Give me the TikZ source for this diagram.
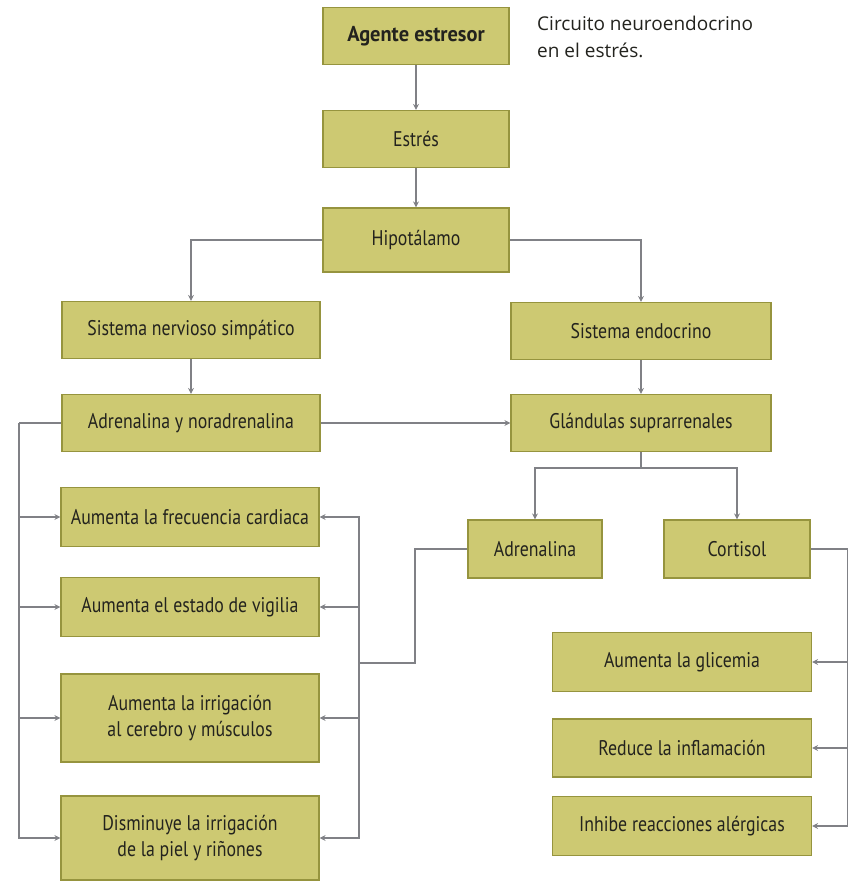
\documentclass[tikz,border=0pt]{standalone}
\usepackage{fontspec}
\setmainfont{PT Sans}[FakeStretch=0.84]
\newfontfamily\titlefont{Open Sans}
\newfontfamily\boldtitle{PT Sans}[FakeStretch=0.95]
\usetikzlibrary{arrows.meta}
\definecolor{boxfill}{RGB}{205,201,114}
\definecolor{boxline}{RGB}{150,148,62}
\definecolor{conn}{RGB}{128,129,134}
\definecolor{txt}{RGB}{35,35,30}
\tikzset{
  box/.style={draw=boxline, line width=1.2pt, fill=boxfill, text=txt, inner sep=0pt,
    align=center, font=\fontsize{21.2}{25.5}\selectfont, minimum width=258pt, minimum height=57pt},
  conline/.style={draw=conn, line width=1.1pt},
  arr/.style={conline, -{Stealth[length=6pt,width=6pt]}},
}
\begin{document}
\begin{tikzpicture}[x=1pt,y=-1pt]
\useasboundingbox (0,0) rectangle (848,883);
% nodes
\node[box, minimum width=186pt, font=\boldtitle\bfseries\fontsize{21.5}{25}\selectfont] (ag) at (416,36) {Agente estresor};
\node[box, minimum width=186pt] (es) at (416,139) {Estrés};
\node[box, minimum width=186pt, minimum height=64pt] (hi) at (416,240) {Hipotálamo};
\node[box] (sn) at (191,330) {Sistema nervioso simpático};
\node[box, minimum width=260pt] (se) at (641,331) {Sistema endocrino};
\node[box] (an) at (191,423) {Adrenalina y noradrenalina};
\node[box, minimum width=260pt] (gs) at (641,423) {Glándulas suprarrenales};
\node[box, minimum width=134pt, minimum height=58pt] (ad) at (535,549) {Adrenalina};
\node[box, minimum width=146pt, minimum height=58pt] (co) at (737,549) {Cortisol};
\node[box, minimum height=59pt] (fc) at (190,517) {Aumenta la frecuencia cardiaca};
\node[box, minimum height=59pt] (vi) at (190,607) {Aumenta el estado de vigilia};
\node[box, minimum height=88pt] (ir) at (190,718) {Aumenta la irrigación\\al cerebro y músculos};
\node[box, minimum height=84pt] (di) at (190,838) {Disminuye la irrigación\\de la piel y riñones};
\node[box, minimum width=259pt, minimum height=59pt] (gl) at (682,662) {Aumenta la glicemia};
\node[box, minimum width=259pt, minimum height=58pt] (re) at (682,748) {Reduce la inflamación};
\node[box, minimum width=259pt, minimum height=59pt] (in) at (682,826) {Inhibe reacciones alérgicas};
\node[anchor=north west, align=left, text=txt, font=\titlefont\fontsize{19}{27}\selectfont, inner sep=0pt] (ti) at (537,16) {Circuito neuroendocrino\\en el estrés.};
% connector coordinates
\coordinate (lt) at (19,423);
\coordinate (rj) at (359,663);
\coordinate (aj) at (415,549);
\coordinate (gj) at (641,468);
\coordinate (cj) at (848,549);
% connectors
\draw[arr] (ag) -- (es);
\draw[arr] (es) -- (hi);
\draw[arr] (hi.west) -| (sn.north);
\draw[arr] (hi.east) -| (se.north);
\draw[arr] (sn) -- (an);
\draw[arr] (se) -- (gs);
\draw[arr] (an.east) -- (gs.west);
\draw[conline] (gs.south) -- (gj);
\draw[arr] (gj) -| (ad.north);
\draw[arr] (gj) -| (co.north);
% left bus
\draw[conline] (an.west) -- (lt);
\draw[arr] (lt) |- (fc.west);
\draw[arr] (lt) |- (vi.west);
\draw[arr] (lt) |- (ir.west);
\draw[arr] (lt) |- (di.west);
% right bus from Adrenalina
\draw[conline] (ad.west) -- (aj) |- (rj);
\draw[arr] (rj) |- (fc.east);
\draw[arr] (rj) |- (vi.east);
\draw[arr] (rj) |- (ir.east);
\draw[arr] (rj) |- (di.east);
% cortisol bus
\draw[conline] (co.east) -- (cj);
\draw[arr] (cj) |- (gl.east);
\draw[arr] (cj) |- (re.east);
\draw[arr] (cj) |- (in.east);
\end{tikzpicture}
\end{document}
